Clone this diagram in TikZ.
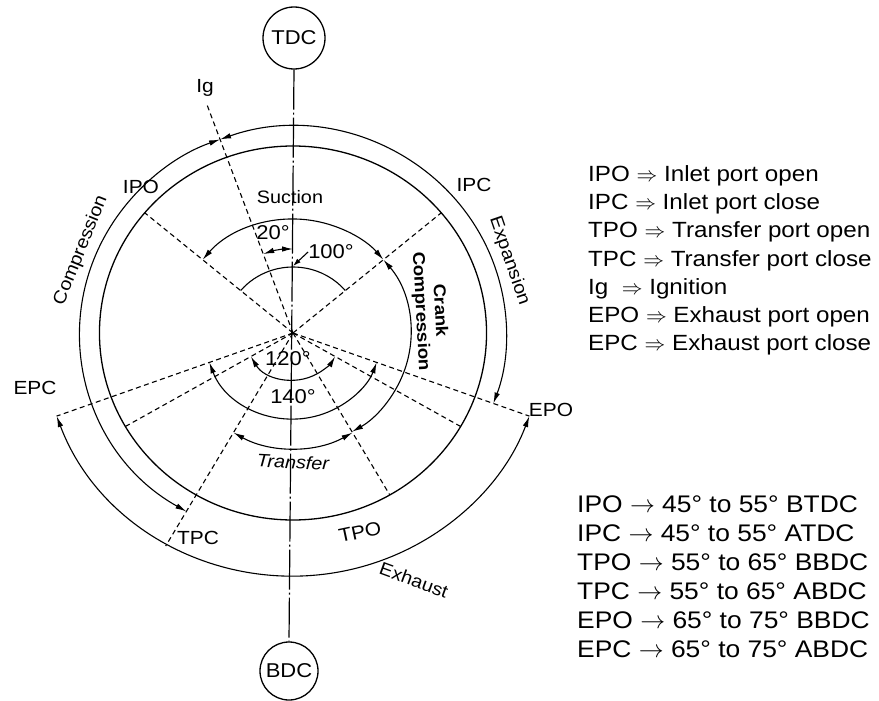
\documentclass[tikz,border=0pt]{standalone}
\usepackage{fontspec}
\setmainfont{Liberation Sans}[FakeStretch=1.1]
\usetikzlibrary{arrows.meta}
\begin{document}
\begin{tikzpicture}[x=1pt,y=1pt,
  ln/.style={line width=1.3pt},
  rad/.style={line width=1.1pt, dash pattern=on 5pt off 3.5pt},
  vline/.style={line width=1.2pt, dash pattern=on 40pt off 3pt on 2pt off 3pt},
  dimarr/.style={line width=1.1pt, {Latex[length=11pt,width=5.5pt]}-{Latex[length=11pt,width=5.5pt]}},
  lbl/.style={font=\fontsize{19}{22}\selectfont, inner sep=0pt},
  ang/.style={font=\fontsize{20}{22}\selectfont, inner sep=0pt},
  proc/.style={font=\fontsize{18}{20}\selectfont, inner sep=0pt},
  leg/.style={font=\fontsize{22}{28.3}\selectfont, align=left, inner sep=0pt, anchor=north west},
  dc/.style={circle, draw, line width=1.3pt, minimum size=62pt, inner sep=0pt, font=\fontsize{20}{22}\selectfont}]
\useasboundingbox (0,-701) rectangle (879,0);
\fill[white] (0,-701) rectangle (879,0);

\node[dc] (TDC) at (294,-38) {TDC};
\node[dc, minimum size=58pt] (BDC) at (289,-671) {BDC};
\draw[vline] (TDC.south) -- (BDC.north);

\begin{scope}[shift={(293,-333)}, xscale=1.035]
  \coordinate (O) at (0,0);
  \coordinate (pIg) at (110:245);
  \coordinate (pIPO) at (140:187);
  \coordinate (pIPC) at (40:187);
  \coordinate (pEPC) at (200:243);
  \coordinate (pA) at (210:187);
  \coordinate (pTPC) at (240:246);
  \coordinate (pTPO) at (300:187);
  \coordinate (pB) at (330:187);
  \coordinate (pEPO) at (340:243);
  \foreach \p in {pIg,pIPO,pIPC,pEPC,pA,pTPC,pTPO,pB,pEPO}
    \draw[rad] (O) -- (\p);

  % rings and process arcs
  \draw[ln] (O) circle[radius=187];
  \draw[ln, dimarr] (240:206) arc[start angle=240, end angle=110, radius=206];
  \draw[ln, dimarr] (110:206) arc[start angle=110, end angle=-20, radius=206];
  \draw[dimarr] (200:243) arc[start angle=200, end angle=340, radius=243];
  \draw[dimarr] (140:114) arc[start angle=140, end angle=40, radius=114];
  \draw[dimarr] (40:114) arc[start angle=40, end angle=-60, radius=114];
  \draw[dimarr] (240:115) arc[start angle=240, end angle=300, radius=115];
  % angle arcs
  \draw[line width=1.1pt] (140:66) arc[start angle=140, end angle=40, radius=66];
  \draw[dimarr] (110:84) arc[start angle=110, end angle=90, radius=84];
  \draw[dimarr] (210:47) arc[start angle=210, end angle=330, radius=47];
  \draw[dimarr] (200:86) arc[start angle=200, end angle=340, radius=86];
  \coordinate (p100) at (90:67);

  \node[proc, rotate=68] (tComp) at (158:221) {Compression};
  \node[proc, rotate=-71] (tExp) at (19:221) {Expansion};
\end{scope}

% point labels
\node[lbl] (lIg) at (205,-88) {Ig};
\node[lbl] (lIPO) at (141,-187) {IPO};
\node[lbl] (lIPC) at (474,-185) {IPC};
\node[lbl] (lEPC) at (35,-388) {EPC};
\node[lbl] (lEPO) at (551,-410) {EPO};
\node[lbl] (lTPC) at (198,-538) {TPC};
\node[lbl, rotate=12] (lTPO) at (360,-532) {TPO};

% angle labels
\node[ang] (a20) at (273,-233) {20°};
\node[ang] (a100) at (331,-252) {100°};
\node[ang] (a120) at (288,-359) {120°};
\node[ang] (a140) at (293,-397) {140°};
\draw[line width=1.1pt, -{Latex[length=8pt,width=5pt]}] (a100.west) -- (p100);

% process labels
\node[proc] (tSuc) at (290,-197) {Suction};
\node[proc, font=\fontsize{17}{19}\bfseries, align=center, rotate=-87] (tCrank) at (430,-311) {Crank\\Compression};
\node[proc, rotate=-3] (tTr) at (293,-462) {\itshape Transfer};
\node[proc, rotate=-20] (tExh) at (414,-580) {Exhaust};

% legends
\node[leg] (leg1) at (588,-165) {IPO $\Rightarrow$ Inlet port open\\
IPC $\Rightarrow$ Inlet port close\\
TPO $\Rightarrow$ Transfer port open\\
TPC $\Rightarrow$ Transfer port close\\
Ig \ $\Rightarrow$ Ignition\\
EPO $\Rightarrow$ Exhaust port open\\
EPC $\Rightarrow$ Exhaust port close};

\node[leg, font=\fontsize{24}{29}\selectfont] (leg2) at (577,-496) {IPO $\rightarrow$ 45° to 55° BTDC\\
IPC $\rightarrow$ 45° to 55° ATDC\\
TPO $\rightarrow$ 55° to 65° BBDC\\
TPC $\rightarrow$ 55° to 65° ABDC\\
EPO $\rightarrow$ 65° to 75° BBDC\\
EPC $\rightarrow$ 65° to 75° ABDC};
\end{tikzpicture}
\end{document}
